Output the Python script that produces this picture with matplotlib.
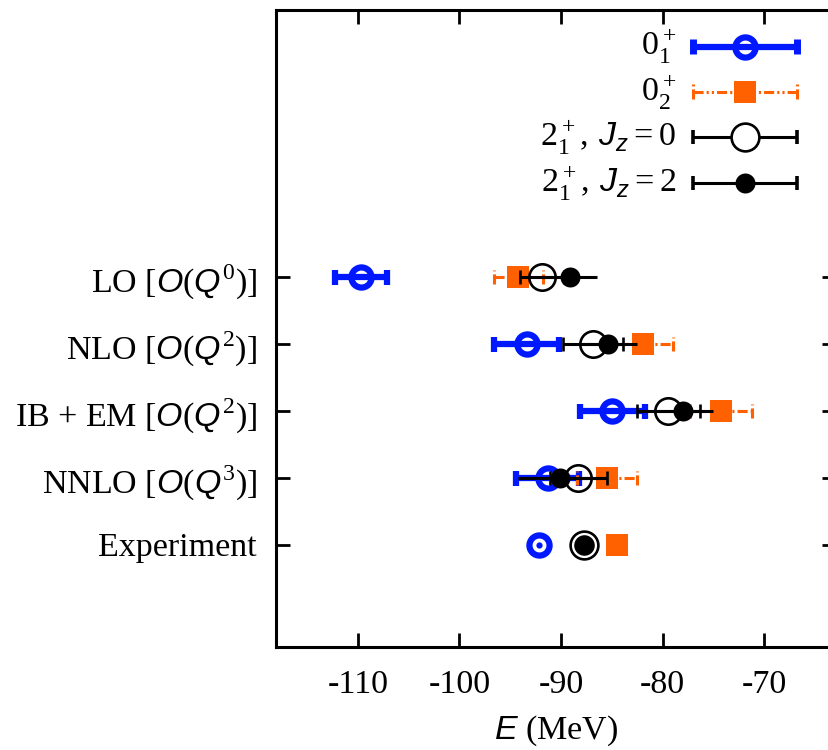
import matplotlib
matplotlib.use('Agg')
import matplotlib.pyplot as plt
import numpy as np

plt.rcParams['font.family'] = ['Liberation Serif', 'DejaVu Serif']
plt.rcParams['mathtext.fontset'] = 'custom'
plt.rcParams['mathtext.rm'] = 'Liberation Serif'
plt.rcParams['mathtext.it'] = 'Liberation Sans:italic'
plt.rcParams['mathtext.bf'] = 'Liberation Serif:bold'

# ---------------- data ----------------
row_labels = ['LO [$O(Q^0)$]', 'NLO [$O(Q^2)$]', 'IB + EM [$O(Q^2)$]',
              'NNLO [$O(Q^3)$]', 'Experiment']
row_pos = [5, 4, 3, 2, 1]
theory_pos = [5, 4, 3, 2]
exp_pos = [1]

e01 = [-109.67, -93.39, -84.97, -91.32]
e01_err = [2.56, 3.2, 3.2, 3.12]
e02 = [-94.23, -81.96, -74.28, -85.51]
e02_err = [2.41, 2.96, 3.02, 2.96]
e2jz0 = [-91.91, -86.89, -79.45, -88.33]
e2jz0_err = [2.17, 2.96, 3.1, 2.8]
e2jz2 = [-89.15, -85.41, -78.02, -90.14]
e2jz2_err = [2.66, 2.86, 2.96, 4.14]

exp_01 = [-92.16]
exp_02 = [-84.51]
exp_2 = [-87.72]

xticks = [-110, -100, -90, -80, -70]
legend_labels = ['$0_1^+$', '$0_2^+$', r'$2_1^+,\,J_z = 0$', r'$2_1^+,\,J_z = 2$']

BLUE = '#0018ff'
ORANGE = '#ff6000'
DASH = (0, (3.3, 1.0, 0.7, 1.0, 0.7, 1.0))

# ---------------- figure ----------------
fig = plt.figure(figsize=(8.29, 7.5), dpi=100)
ax = fig.add_axes([0.3335, 0.1373, 1.0080 - 0.3335, 0.9873 - 0.1373])
ax.set_xlim(-118, -63)
ax.set_ylim(-0.53, 9.0)

th_y = np.array(theory_pos, dtype=float)
cap_h = 0.105

# 0_1^+ (blue)
ax.errorbar(e01, th_y, xerr=e01_err, fmt='o', color=BLUE, mfc='none', mec=BLUE,
            ms=14.5, mew=4.5, elinewidth=4.5, capsize=5.4, capthick=5, zorder=2)

# 0_2^+ (orange, dashed)
e02a = np.array(e02); e02e = np.array(e02_err)
ax.hlines(th_y, e02a - e02e, e02a + e02e, colors=ORANGE, linestyles=[DASH], lw=2.2, zorder=3)
ax.vlines(e02a - e02e, th_y - cap_h, th_y + cap_h, colors=ORANGE, linestyles=[DASH], lw=2.2, zorder=3)
ax.vlines(e02a + e02e, th_y - cap_h, th_y + cap_h, colors=ORANGE, linestyles=[DASH], lw=2.2, zorder=3)
ax.plot(e02, th_y, 's', color=ORANGE, ms=15.6, mew=0, zorder=3, ls='none')

# 2_1^+ Jz=0 (open black)
ax.errorbar(e2jz0, th_y, xerr=e2jz0_err, fmt='o', color='k', mfc='none', mec='k',
            ms=19, mew=1.9, elinewidth=2.2, capsize=5, capthick=2.6, zorder=4)
# 2_1^+ Jz=2 (filled black)
ax.errorbar(e2jz2, th_y, xerr=e2jz2_err, fmt='o', color='k', mfc='k', mec='k',
            ms=14.4, mew=0, elinewidth=2.2, capsize=5, capthick=2.6, zorder=5)

# Experiment
ax.plot(exp_01, exp_pos, 'o', mfc='none', mec=BLUE, ms=14.5, mew=4.5, zorder=2, ls='none')
ax.plot(exp_01, exp_pos, 'o', color=BLUE, ms=4.5, mew=0, zorder=2, ls='none')
ax.plot(exp_02, exp_pos, 's', color=ORANGE, ms=15.6, mew=0, zorder=3, ls='none')
ax.plot(exp_2, exp_pos, 'o', mfc='none', mec='k', ms=20, mew=1.9, zorder=4, ls='none')
ax.plot(exp_2, exp_pos, 'o', mfc='k', mec='white', ms=16, mew=1.2, zorder=5, ls='none')

# ---------------- axes styling ----------------
ax.set_xticks(xticks)
ax.set_xticklabels([str(t) for t in xticks])
ax.set_yticks(row_pos)
ax.set_yticklabels(row_labels)
ax.tick_params(axis='both', direction='in', length=10, width=2.0, top=True, right=True,
               labelsize=24.5)
ax.tick_params(axis='x', pad=16)
ax.tick_params(axis='y', pad=14)
for s in ax.spines.values():
    s.set_linewidth(2.2)
ax.set_xlabel('$E$ (MeV)', fontsize=24.5, labelpad=10)

# ---------------- legend (manual) ----------------
lx0, lx1, lxm, ltx = 0.745, 0.931, 0.838, 0.716
ly = [0.9417, 0.871, 0.800, 0.728]
lh = 0.0115
T = ax.transAxes
# blue
ax.plot([lx0, lx1], [ly[0], ly[0]], color=BLUE, lw=4.5, transform=T, clip_on=False, solid_capstyle='butt')
for xx in (lx0, lx1):
    ax.plot([xx, xx], [ly[0] - lh, ly[0] + lh], color=BLUE, lw=5, transform=T, clip_on=False, solid_capstyle='butt')
ax.plot([lxm], [ly[0]], 'o', mfc='none', mec=BLUE, ms=14.5, mew=4.5, transform=T, clip_on=False)
# orange
ax.plot([lx0, lx1], [ly[1], ly[1]], color=ORANGE, lw=2.2, ls=DASH, transform=T, clip_on=False)
for xx in (lx0, lx1):
    ax.plot([xx, xx], [ly[1] - lh, ly[1] + lh], color=ORANGE, lw=2.2, ls=DASH, transform=T, clip_on=False)
ax.plot([lxm], [ly[1]], 's', color=ORANGE, ms=15.6, mew=0, transform=T, clip_on=False)
# black open / filled
for yy, filled in ((ly[2], False), (ly[3], True)):
    ax.plot([lx0, lx1], [yy, yy], color='k', lw=2.2, transform=T, clip_on=False, solid_capstyle='butt')
    for xx in (lx0, lx1):
        ax.plot([xx, xx], [yy - lh, yy + lh], color='k', lw=2.6, transform=T, clip_on=False, solid_capstyle='butt')
    if filled:
        ax.plot([lxm], [yy], 'o', color='k', ms=14.4, mew=0, transform=T, clip_on=False)
    else:
        ax.plot([lxm], [yy], 'o', mfc='white', mec='k', ms=20, mew=1.9, transform=T, clip_on=False)

for yy, lab in zip(ly, legend_labels):
    ax.text(ltx, yy, lab, transform=T, ha='right', va='center', fontsize=24.5)

fig.savefig('out.png', dpi=100)
